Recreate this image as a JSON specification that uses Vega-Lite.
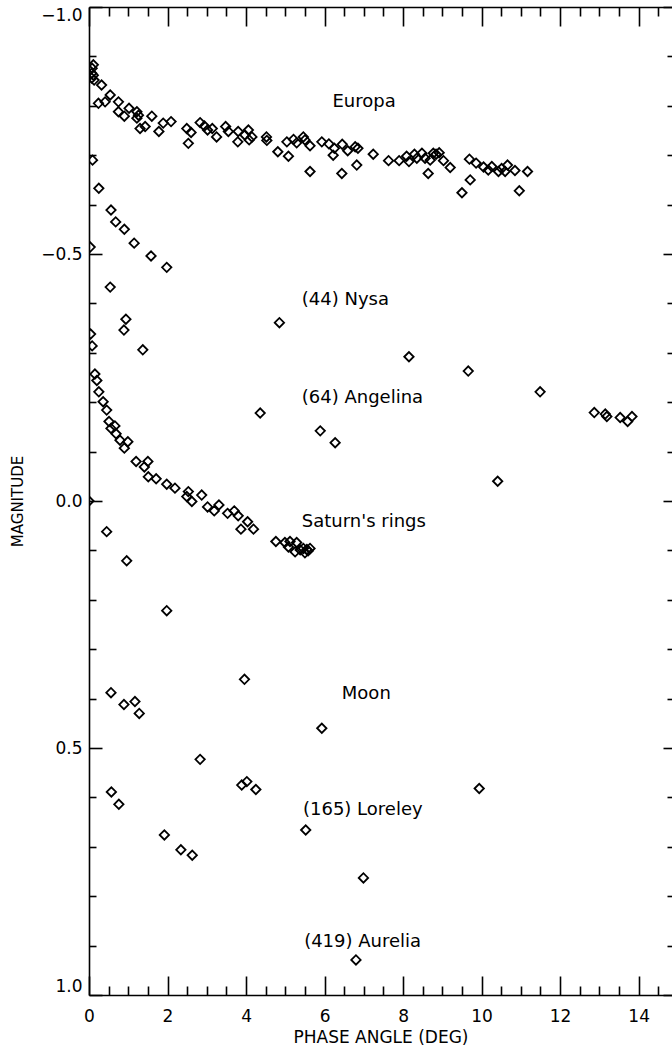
{
  "$schema": "https://vega.github.io/schema/vega-lite/v6.json",
  "width": 583,
  "height": 988,
  "autosize": {"type": "none"},
  "padding": {"left": 89, "top": 7, "right": 0, "bottom": 54},
  "config": {
    "view": {"stroke": null},
    "font": "DejaVu Sans",
    "axis": {
      "grid": false,
      "labelFont": "DejaVu Sans",
      "labelFontSize": 17,
      "titleFont": "DejaVu Sans",
      "titleFontSize": 15,
      "titleFontWeight": "normal",
      "domainColor": "black",
      "tickColor": "black",
      "labelColor": "black",
      "titleColor": "black",
      "domainWidth": 1.6,
      "tickWidth": 1.6
    }
  },
  "datasets": {
    "pts": [
      {"body":"Europa","phase":0.11,"mag":-0.883},{"body":"Europa","phase":0.08,"mag":-0.876},{"body":"Europa","phase":0.07,"mag":-0.866},{"body":"Europa","phase":0.11,"mag":-0.862},{"body":"Europa","phase":0.07,"mag":-0.856},{"body":"Europa","phase":0.13,"mag":-0.852},{"body":"Europa","phase":0.32,"mag":-0.842},{"body":"Europa","phase":0.24,"mag":-0.805},{"body":"Europa","phase":0.41,"mag":-0.808},{"body":"Europa","phase":0.54,"mag":-0.822},{"body":"Europa","phase":0.75,"mag":-0.808},{"body":"Europa","phase":0.75,"mag":-0.788},{"body":"Europa","phase":0.90,"mag":-0.779},{"body":"Europa","phase":1.02,"mag":-0.795},{"body":"Europa","phase":1.22,"mag":-0.788},{"body":"Europa","phase":1.26,"mag":-0.781},{"body":"Europa","phase":1.22,"mag":-0.775},{"body":"Europa","phase":1.30,"mag":-0.754},{"body":"Europa","phase":1.43,"mag":-0.758},{"body":"Europa","phase":1.60,"mag":-0.779},{"body":"Europa","phase":1.78,"mag":-0.748},{"body":"Europa","phase":1.89,"mag":-0.765},{"body":"Europa","phase":2.09,"mag":-0.768},{"body":"Europa","phase":2.49,"mag":-0.754},{"body":"Europa","phase":2.60,"mag":-0.746},{"body":"Europa","phase":2.53,"mag":-0.724},{"body":"Europa","phase":2.83,"mag":-0.766},{"body":"Europa","phase":2.94,"mag":-0.759},{"body":"Europa","phase":3.02,"mag":-0.751},{"body":"Europa","phase":3.14,"mag":-0.754},{"body":"Europa","phase":3.25,"mag":-0.737},{"body":"Europa","phase":3.48,"mag":-0.758},{"body":"Europa","phase":3.55,"mag":-0.748},{"body":"Europa","phase":3.80,"mag":-0.748},{"body":"Europa","phase":3.79,"mag":-0.727},{"body":"Europa","phase":3.97,"mag":-0.741},{"body":"Europa","phase":4.06,"mag":-0.751},{"body":"Europa","phase":4.08,"mag":-0.731},{"body":"Europa","phase":4.15,"mag":-0.737},{"body":"Europa","phase":4.52,"mag":-0.737},{"body":"Europa","phase":4.53,"mag":-0.730},{"body":"Europa","phase":4.81,"mag":-0.707},{"body":"Europa","phase":5.04,"mag":-0.727},{"body":"Europa","phase":5.08,"mag":-0.698},{"body":"Europa","phase":5.21,"mag":-0.732},{"body":"Europa","phase":5.29,"mag":-0.725},{"body":"Europa","phase":5.46,"mag":-0.737},{"body":"Europa","phase":5.50,"mag":-0.731},{"body":"Europa","phase":5.63,"mag":-0.719},{"body":"Europa","phase":5.63,"mag":-0.667},{"body":"Europa","phase":5.93,"mag":-0.727},{"body":"Europa","phase":6.11,"mag":-0.723},{"body":"Europa","phase":6.25,"mag":-0.714},{"body":"Europa","phase":6.22,"mag":-0.700},{"body":"Europa","phase":6.45,"mag":-0.722},{"body":"Europa","phase":6.44,"mag":-0.663},{"body":"Europa","phase":6.59,"mag":-0.709},{"body":"Europa","phase":6.78,"mag":-0.717},{"body":"Europa","phase":6.85,"mag":-0.714},{"body":"Europa","phase":6.82,"mag":-0.680},{"body":"Europa","phase":7.24,"mag":-0.702},{"body":"Europa","phase":7.63,"mag":-0.689},{"body":"Europa","phase":7.90,"mag":-0.689},{"body":"Europa","phase":8.09,"mag":-0.698},{"body":"Europa","phase":8.15,"mag":-0.687},{"body":"Europa","phase":8.29,"mag":-0.702},{"body":"Europa","phase":8.35,"mag":-0.694},{"body":"Europa","phase":8.48,"mag":-0.704},{"body":"Europa","phase":8.56,"mag":-0.694},{"body":"Europa","phase":8.64,"mag":-0.663},{"body":"Europa","phase":8.69,"mag":-0.690},{"body":"Europa","phase":8.77,"mag":-0.704},{"body":"Europa","phase":8.84,"mag":-0.702},{"body":"Europa","phase":8.92,"mag":-0.705},{"body":"Europa","phase":9.03,"mag":-0.689},{"body":"Europa","phase":9.20,"mag":-0.675},{"body":"Europa","phase":9.69,"mag":-0.692},{"body":"Europa","phase":9.71,"mag":-0.650},{"body":"Europa","phase":9.50,"mag":-0.624},{"body":"Europa","phase":9.86,"mag":-0.684},{"body":"Europa","phase":10.05,"mag":-0.676},{"body":"Europa","phase":10.17,"mag":-0.670},{"body":"Europa","phase":10.26,"mag":-0.677},{"body":"Europa","phase":10.43,"mag":-0.667},{"body":"Europa","phase":10.51,"mag":-0.673},{"body":"Europa","phase":10.66,"mag":-0.680},{"body":"Europa","phase":10.60,"mag":-0.667},{"body":"Europa","phase":10.85,"mag":-0.669},{"body":"Europa","phase":11.17,"mag":-0.667},{"body":"Europa","phase":10.96,"mag":-0.628},
      {"body":"Nysa","phase":0.03,"mag":-0.514},{"body":"Nysa","phase":0.09,"mag":-0.690},{"body":"Nysa","phase":0.25,"mag":-0.633},{"body":"Nysa","phase":0.56,"mag":-0.589},{"body":"Nysa","phase":0.68,"mag":-0.565},{"body":"Nysa","phase":0.90,"mag":-0.550},{"body":"Nysa","phase":1.15,"mag":-0.522},{"body":"Nysa","phase":1.58,"mag":-0.496},{"body":"Nysa","phase":1.98,"mag":-0.473},{"body":"Nysa","phase":0.54,"mag":-0.433},{"body":"Nysa","phase":4.85,"mag":-0.361},{"body":"Nysa","phase":8.15,"mag":-0.292},{"body":"Nysa","phase":9.66,"mag":-0.263},{"body":"Nysa","phase":11.49,"mag":-0.221},{"body":"Nysa","phase":12.87,"mag":-0.179},{"body":"Nysa","phase":13.15,"mag":-0.176},{"body":"Nysa","phase":13.19,"mag":-0.171},{"body":"Nysa","phase":13.53,"mag":-0.169},{"body":"Nysa","phase":13.72,"mag":-0.161},{"body":"Nysa","phase":13.83,"mag":-0.171},
      {"body":"Angelina","phase":0.04,"mag":-0.338},{"body":"Angelina","phase":0.08,"mag":-0.314},{"body":"Angelina","phase":0.94,"mag":-0.368},{"body":"Angelina","phase":0.89,"mag":-0.346},{"body":"Angelina","phase":1.37,"mag":-0.306},{"body":"Angelina","phase":4.36,"mag":-0.178},{"body":"Angelina","phase":5.89,"mag":-0.142},{"body":"Angelina","phase":6.27,"mag":-0.118},{"body":"Angelina","phase":10.41,"mag":-0.040},
      {"body":"Saturn","phase":0.0,"mag":0.0},{"body":"Saturn","phase":0.15,"mag":-0.257},{"body":"Saturn","phase":0.20,"mag":-0.244},{"body":"Saturn","phase":0.25,"mag":-0.221},{"body":"Saturn","phase":0.36,"mag":-0.201},{"body":"Saturn","phase":0.45,"mag":-0.184},{"body":"Saturn","phase":0.51,"mag":-0.161},{"body":"Saturn","phase":0.66,"mag":-0.152},{"body":"Saturn","phase":0.56,"mag":-0.147},{"body":"Saturn","phase":0.69,"mag":-0.136},{"body":"Saturn","phase":0.79,"mag":-0.123},{"body":"Saturn","phase":0.99,"mag":-0.120},{"body":"Saturn","phase":0.90,"mag":-0.107},{"body":"Saturn","phase":1.20,"mag":-0.080},{"body":"Saturn","phase":1.50,"mag":-0.080},{"body":"Saturn","phase":1.41,"mag":-0.069},{"body":"Saturn","phase":1.51,"mag":-0.049},{"body":"Saturn","phase":1.71,"mag":-0.045},{"body":"Saturn","phase":1.98,"mag":-0.034},{"body":"Saturn","phase":2.19,"mag":-0.026},{"body":"Saturn","phase":2.53,"mag":-0.019},{"body":"Saturn","phase":2.49,"mag":-0.009},{"body":"Saturn","phase":2.62,"mag":0.001},{"body":"Saturn","phase":2.87,"mag":-0.012},{"body":"Saturn","phase":3.02,"mag":0.012},{"body":"Saturn","phase":3.31,"mag":0.008},{"body":"Saturn","phase":3.19,"mag":0.020},{"body":"Saturn","phase":3.53,"mag":0.025},{"body":"Saturn","phase":3.70,"mag":0.020},{"body":"Saturn","phase":3.80,"mag":0.030},{"body":"Saturn","phase":4.04,"mag":0.042},{"body":"Saturn","phase":3.87,"mag":0.057},{"body":"Saturn","phase":4.19,"mag":0.057},{"body":"Saturn","phase":4.76,"mag":0.082},{"body":"Saturn","phase":4.99,"mag":0.084},{"body":"Saturn","phase":5.12,"mag":0.082},{"body":"Saturn","phase":5.29,"mag":0.084},{"body":"Saturn","phase":5.08,"mag":0.093},{"body":"Saturn","phase":5.25,"mag":0.103},{"body":"Saturn","phase":5.46,"mag":0.096},{"body":"Saturn","phase":5.55,"mag":0.098},{"body":"Saturn","phase":5.63,"mag":0.096},{"body":"Saturn","phase":5.50,"mag":0.105},{"body":"Saturn","phase":5.38,"mag":0.099},{"body":"Saturn","phase":5.58,"mag":0.101},
      {"body":"Moon","phase":0.45,"mag":0.062},{"body":"Moon","phase":0.96,"mag":0.121},{"body":"Moon","phase":1.98,"mag":0.222},{"body":"Moon","phase":3.96,"mag":0.361},{"body":"Moon","phase":5.93,"mag":0.460},{"body":"Moon","phase":9.94,"mag":0.582},
      {"body":"Loreley","phase":0.56,"mag":0.388},{"body":"Loreley","phase":0.89,"mag":0.412},{"body":"Loreley","phase":1.17,"mag":0.406},{"body":"Loreley","phase":1.28,"mag":0.430},{"body":"Loreley","phase":2.83,"mag":0.523},{"body":"Loreley","phase":3.89,"mag":0.575},{"body":"Loreley","phase":4.02,"mag":0.568},{"body":"Loreley","phase":4.25,"mag":0.584},{"body":"Loreley","phase":5.52,"mag":0.666},{"body":"Loreley","phase":6.99,"mag":0.763},
      {"body":"Aurelia","phase":0.57,"mag":0.589},{"body":"Aurelia","phase":0.76,"mag":0.614},{"body":"Aurelia","phase":1.92,"mag":0.676},{"body":"Aurelia","phase":2.34,"mag":0.706},{"body":"Aurelia","phase":2.63,"mag":0.717},{"body":"Aurelia","phase":6.80,"mag":0.929}
    ],
    "labels": [
      {"phase":6.2,"mag":-0.798,"text":"Europa"},
      {"phase":5.42,"mag":-0.397,"text":"(44) Nysa"},
      {"phase":5.42,"mag":-0.198,"text":"(64) Angelina"},
      {"phase":5.42,"mag":0.053,"text":"Saturn's rings"},
      {"phase":6.44,"mag":0.401,"text":"Moon"},
      {"phase":5.45,"mag":0.636,"text":"(165) Loreley"},
      {"phase":5.48,"mag":0.902,"text":"(419) Aurelia"}
    ]
  },
  "resolve": {"axis": {"x": "independent", "y": "independent"}},
  "layer": [
    {
      "data": {"name": "pts"},
      "mark": {"type": "point", "shape": "diamond", "filled": false, "size": 88, "strokeWidth": 1.8, "color": "black", "opacity": 1, "clip": true},
      "encoding": {
        "x": {"field": "phase", "type": "quantitative", "scale": {"domain": [0, 14.85], "nice": false, "zero": false},
          "axis": {"orient": "bottom", "values": [0,2,4,6,8,10,12,14], "ticks": false, "labelPadding": 13, "labelFlush": false, "title": "PHASE ANGLE (DEG)", "titleFontSize": 17, "titlePadding": 5, "domain": true}},
        "y": {"field": "mag", "type": "quantitative", "scale": {"domain": [-1, 1], "reverse": true, "nice": false, "zero": false},
          "axis": {"orient": "left", "values": [-1,-0.5,0,0.5,1], "format": ".1f", "ticks": false, "labelPadding": 7, "labelFlush": true, "title": "MAGNITUDE", "titleFontSize": 15, "titlePadding": 15, "domain": true}}
      }
    },
    {
      "data": {"name": "labels"},
      "mark": {"type": "text", "align": "left", "baseline": "alphabetic", "fontSize": 18, "font": "DejaVu Sans", "color": "black"},
      "encoding": {
        "x": {"field": "phase", "type": "quantitative", "scale": {"domain": [0, 14.85], "nice": false, "zero": false},
          "axis": {"orient": "bottom", "values": [0,2,4,6,8,10,12,14], "tickSize": -19, "labels": false, "domain": false, "title": null}},
        "y": {"field": "mag", "type": "quantitative", "scale": {"domain": [-1, 1], "reverse": true, "nice": false, "zero": false},
          "axis": {"orient": "left", "values": [-1,-0.5,0,0.5,1], "tickSize": -13, "labels": false, "domain": false, "title": null}},
        "text": {"field": "text"}
      }
    },
    {
      "data": {"name": "labels"},
      "mark": {"type": "point", "opacity": 0},
      "encoding": {
        "x": {"field": "phase", "type": "quantitative", "scale": {"domain": [0, 14.85], "nice": false, "zero": false},
          "axis": {"orient": "bottom", "values": [0.5,1,1.5,2.5,3,3.5,4.5,5,5.5,6.5,7,7.5,8.5,9,9.5,10.5,11,11.5,12.5,13,13.5,14.5], "tickSize": -9, "labels": false, "domain": false, "title": null}},
        "y": {"field": "mag", "type": "quantitative", "scale": {"domain": [-1, 1], "reverse": true, "nice": false, "zero": false},
          "axis": {"orient": "left", "values": [-0.9,-0.8,-0.7,-0.6,-0.4,-0.3,-0.2,-0.1,0.1,0.2,0.3,0.4,0.6,0.7,0.8,0.9], "tickSize": -7, "labels": false, "domain": false, "title": null}}
      }
    },
    {
      "data": {"name": "labels"},
      "mark": {"type": "point", "opacity": 0},
      "encoding": {
        "x": {"field": "phase", "type": "quantitative", "scale": {"domain": [0, 14.85], "nice": false, "zero": false},
          "axis": {"orient": "top", "values": [0,2,4,6,8,10,12,14], "tickSize": -19, "labels": false, "domain": true, "title": null}},
        "y": {"field": "mag", "type": "quantitative", "scale": {"domain": [-1, 1], "reverse": true, "nice": false, "zero": false},
          "axis": {"orient": "right", "values": [-1,-0.5,0,0.5,1], "tickSize": -9, "labels": false, "domain": false, "title": null}}
      }
    },
    {
      "data": {"name": "labels"},
      "mark": {"type": "point", "opacity": 0},
      "encoding": {
        "x": {"field": "phase", "type": "quantitative", "scale": {"domain": [0, 14.85], "nice": false, "zero": false},
          "axis": {"orient": "top", "values": [0.5,1,1.5,2.5,3,3.5,4.5,5,5.5,6.5,7,7.5,8.5,9,9.5,10.5,11,11.5,12.5,13,13.5,14.5], "tickSize": -9, "labels": false, "domain": false, "title": null}},
        "y": {"field": "mag", "type": "quantitative", "scale": {"domain": [-1, 1], "reverse": true, "nice": false, "zero": false},
          "axis": {"orient": "right", "values": [-0.9,-0.8,-0.7,-0.6,-0.4,-0.3,-0.2,-0.1,0.1,0.2,0.3,0.4,0.6,0.7,0.8,0.9], "tickSize": -5, "labels": false, "domain": false, "title": null}}
      }
    }
  ]
}
